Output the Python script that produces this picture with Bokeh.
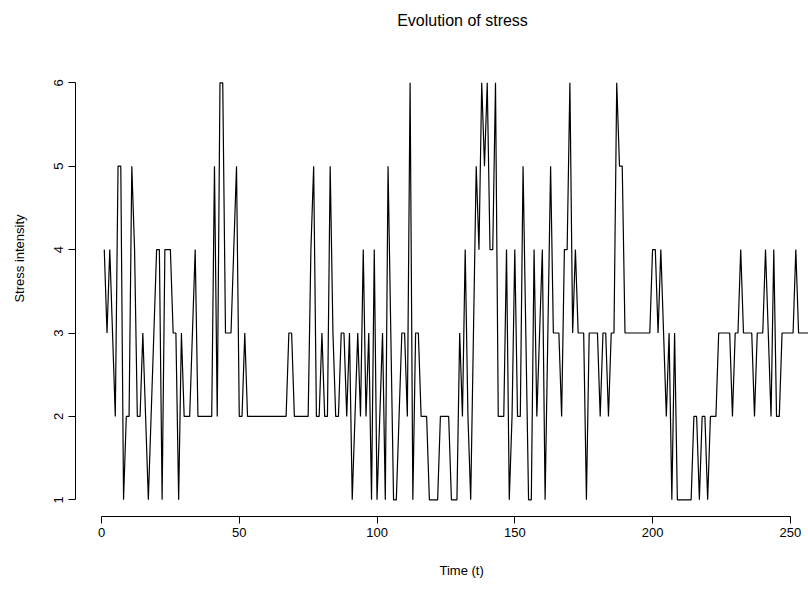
from bokeh.plotting import figure
from bokeh.models import Range1d, FixedTicker, Label, Title
from bokeh.embed import file_html
from bokeh.resources import INLINE

# Data
time_index = list(range(1, 258))
stress = [
    4, 3, 4, 3, 2, 5, 5, 1, 2, 2,
    5, 4, 2, 2, 3, 2, 1, 2, 3, 4,
    4, 1, 4, 4, 4, 3, 3, 1, 3, 2,
    2, 2, 3, 4, 2, 2, 2, 2, 2, 2,
    5, 2, 6, 6, 3, 3, 3, 4, 5, 2,
    2, 3, 2, 2, 2, 2, 2, 2, 2, 2,
    2, 2, 2, 2, 2, 2, 2, 3, 3, 2,
    2, 2, 2, 2, 2, 4, 5, 2, 2, 3,
    2, 2, 5, 3, 2, 2, 3, 3, 2, 3,
    1, 2, 3, 2, 4, 2, 3, 1, 4, 1,
    2, 3, 1, 5, 3, 1, 1, 2, 3, 3,
    2, 6, 1, 3, 3, 2, 2, 2, 1, 1,
    1, 1, 2, 2, 2, 2, 1, 1, 1, 3,
    2, 4, 2, 1, 3, 5, 4, 6, 5, 6,
    4, 4, 6, 2, 2, 2, 4, 1, 2, 4,
    2, 2, 5, 3, 1, 1, 4, 2, 3, 4,
    1, 3, 5, 3, 3, 3, 2, 4, 4, 6,
    3, 4, 3, 3, 3, 1, 3, 3, 3, 3,
    2, 3, 3, 2, 3, 3, 6, 5, 5, 3,
    3, 3, 3, 3, 3, 3, 3, 3, 3, 4,
    4, 3, 4, 3, 2, 3, 1, 3, 1, 1,
    1, 1, 1, 1, 2, 2, 1, 2, 2, 1,
    2, 2, 2, 3, 3, 3, 3, 3, 2, 3,
    3, 4, 3, 3, 3, 3, 2, 3, 3, 3,
    4, 3, 2, 4, 2, 2, 3, 3, 3, 3,
    3, 4, 3, 3, 3, 3, 3,
]
x_ticks = [0, 50, 100, 150, 200, 250]
y_ticks = [1, 2, 3, 4, 5, 6]

title_text = "Evolution of stress"
x_label = "Time (t)"
y_label = "Stress intensity"

FONT = "Liberation Sans"

# Frame runs from the top of the canvas down to the x axis, so that the
# title can sit inside it as a screen-space label.
p = figure(
    width=808, height=599,
    output_backend="svg", toolbar_location=None,
    x_range=Range1d(-9.44, 256.6),
    y_range=Range1d(0.8, 6.987),
    min_border_left=75, min_border_right=0,
    min_border_top=0, min_border_bottom=83,
    outline_line_color=None,
    background_fill_color="white",
    border_fill_color="white",
)
p.xgrid.visible = False
p.ygrid.visible = False

p.line(time_index, stress, line_color="black", line_width=1.2)

title = Label(
    x=387, y=496, x_units="screen", y_units="screen",
    text=title_text, text_align="center", text_baseline="middle",
    text_font=FONT, text_font_size="16px", text_color="black",
)
p.add_layout(title)

xa = p.below[0]
ya = p.left[0]
for ax in (xa, ya):
    ax.axis_line_color = "black"
    ax.axis_line_width = 1
    ax.major_tick_line_color = "black"
    ax.major_tick_out = 7
    ax.major_tick_in = 0
    ax.minor_tick_line_color = None
    ax.major_label_text_font = FONT
    ax.major_label_text_font_size = "13px"
    ax.major_label_text_color = "black"
    ax.axis_label_text_font = FONT
    ax.axis_label_text_font_size = "13px"
    ax.axis_label_text_font_style = "normal"
    ax.axis_label_text_color = "black"

xa.ticker = FixedTicker(ticks=x_ticks)
xa.bounds = (x_ticks[0], x_ticks[-1])
xa.major_label_standoff = 4

ya.ticker = FixedTicker(ticks=y_ticks)
ya.bounds = (y_ticks[0], y_ticks[-1])
ya.axis_label = y_label
ya.major_label_orientation = "vertical"
ya.major_label_standoff = 5
ya.axis_label_standoff = 25

# x-axis title, centred under the full plot region as in the reference
p.add_layout(Title(
    text=x_label, align="left", offset=364, vertical_align="bottom",
    standoff=43, text_font=FONT, text_font_size="13px",
    text_font_style="normal", text_color="black",
), "below")

open("out.html", "w").write(file_html(p, INLINE))
